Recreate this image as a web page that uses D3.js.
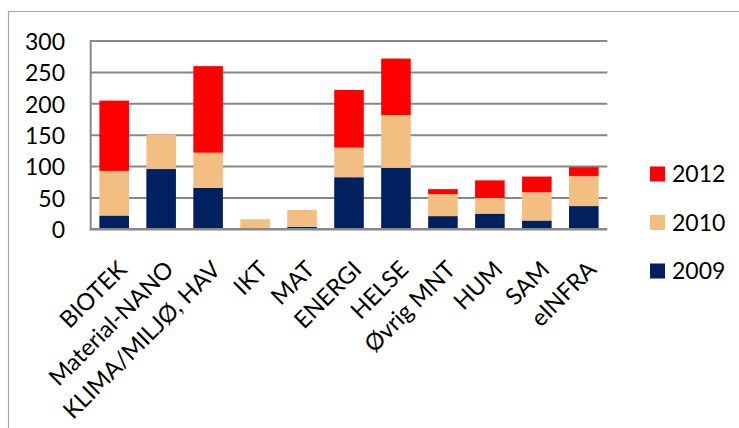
<!DOCTYPE html>
<html><head><meta charset="utf-8">
<script src="https://cdn.jsdelivr.net/npm/d3@7"></script>
<style>body{margin:0;background:#fff}svg{display:block}text{font-family:Lato,"Open Sans",sans-serif;fill:#000}</style>
</head><body><svg id="c" width="739" height="428"></svg>
<script>
const categories = ["BIOTEK","Material-NANO","KLIMA/MILJØ, HAV","IKT","MAT","ENERGI","HELSE","Øvrig MNT","HUM","SAM","eINFRA"];
const series = ["2009","2010","2012"];
const v2009 = [22, 96, 66, 2, 4, 83, 98, 21, 25, 14, 37];
const v2010 = [71, 55, 56, 14, 27, 47, 84, 35, 25, 45, 48];
const v2012 = [112, 0, 138, 0, 0, 92, 90, 8, 28, 25, 14];
const yTicks = [0, 50, 100, 150, 200, 250, 300];
const colors = {"2009":"#002060","2010":"#F3BE82","2012":"#FF0000"};

const svg = d3.select("#c");
const L = 90.7, R = 607.3, T = 41, B = 229.3;
const x = d3.scaleBand().domain(categories).range([L, R]).paddingInner(0.37).paddingOuter(0.185);
const y = d3.scaleLinear().domain([0, 300]).range([B, T]);

// outer chart border
svg.append("path").attr("d", `M8.5,${428}V11.5H739`).attr("fill","none").attr("stroke","#a6a6a6").attr("stroke-width",1.2);

// gridlines
svg.append("g").selectAll("line").data(yTicks.filter(d=>d>0)).join("line")
  .attr("x1", L).attr("x2", R).attr("y1", d=>y(d)).attr("y2", d=>y(d))
  .attr("stroke","#878787").attr("stroke-width",2);

const rows = categories.map((c,i)=>({cat:c, "2009":v2009[i], "2010":v2010[i], "2012":v2012[i]}));
const stack = d3.stack().keys(series)(rows);
svg.append("g").selectAll("g").data(stack).join("g").attr("fill", d=>colors[d.key])
  .selectAll("rect").data(d=>d).join("rect")
  .attr("x", d=>x(d.data.cat)).attr("width", x.bandwidth())
  .attr("y", d=>y(d[1])).attr("height", d=>y(d[0])-y(d[1]));

// axes lines
svg.append("line").attr("x1",L).attr("x2",L).attr("y1",T-1).attr("y2",B+1).attr("stroke","#878787").attr("stroke-width",2);
svg.append("line").attr("x1",L-1).attr("x2",R).attr("y1",B).attr("y2",B).attr("stroke","#878787").attr("stroke-width",2.5);

// y labels
const yAxis = d3.axisLeft(y).tickValues(yTicks).tickSize(0).tickPadding(0);
const ga = svg.append("g").attr("transform",`translate(65,0)`).call(yAxis);
ga.select(".domain").remove();
ga.selectAll("text").attr("font-size",23).attr("font-family","Lato").attr("fill","#000").attr("dy","0.36em");

// x labels
svg.append("g").selectAll("text").data(categories).join("text")
  .attr("transform", d=>`translate(${x(d)+x.bandwidth()/2+8},265) rotate(-45)`)
  .attr("text-anchor","end").attr("dy","0.36em").attr("font-size",23.5).text(d=>d);

// legend
const leg = ["2012","2010","2009"];
const lg = svg.append("g").selectAll("g").data(leg).join("g")
  .attr("transform",(d,i)=>`translate(650,${174+i*48.5})`);
lg.append("rect").attr("x",0).attr("y",-7.5).attr("width",15).attr("height",15).attr("fill",d=>colors[d]);
lg.append("text").attr("x",22).attr("dy","0.36em").attr("font-size",23).text(d=>d);
</script></body></html>
